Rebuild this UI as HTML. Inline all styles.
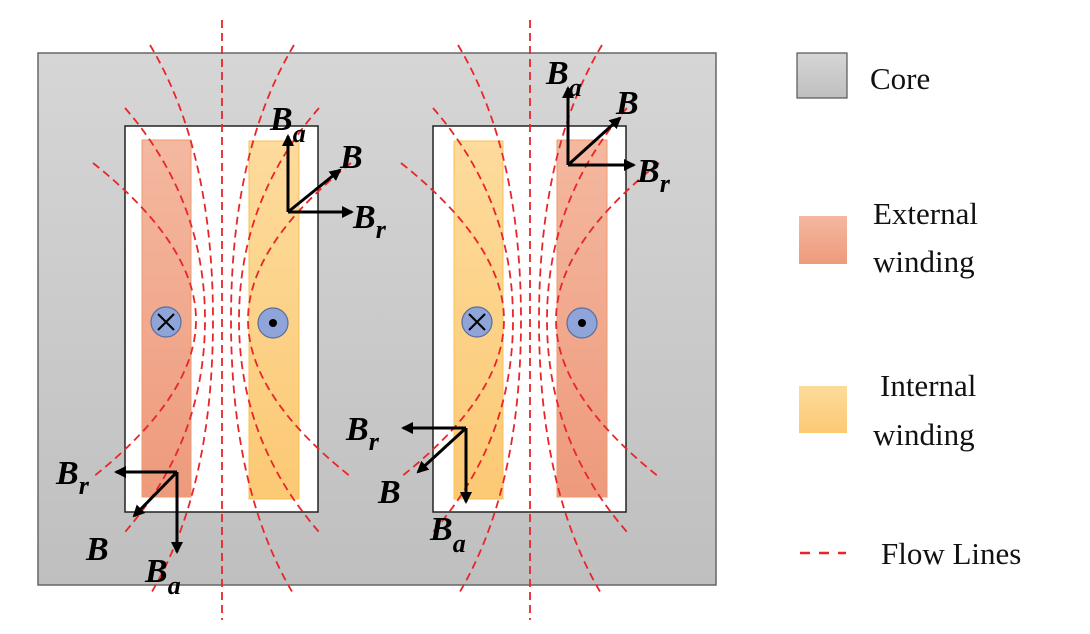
<!DOCTYPE html>
<html><head><style>body{margin:0;background:#fff}svg{display:block}</style></head><body>
<svg width="1090" height="634" viewBox="0 0 1090 634" xmlns="http://www.w3.org/2000/svg">
<defs>
<linearGradient id="cg" x1="0" y1="0" x2="0" y2="1"><stop offset="0" stop-color="#d6d6d6"/><stop offset="1" stop-color="#bfbfbf"/></linearGradient>
<linearGradient id="eg" x1="0" y1="0" x2="0" y2="1"><stop offset="0" stop-color="#f4b8a0"/><stop offset="1" stop-color="#ee9a7c"/></linearGradient>
<linearGradient id="ig" x1="0" y1="0" x2="0" y2="1"><stop offset="0" stop-color="#fddb9c"/><stop offset="1" stop-color="#fcc974"/></linearGradient>
<marker id="ah" markerWidth="12" markerHeight="12" refX="10" refY="6" orient="auto" markerUnits="userSpaceOnUse"><path d="M0,0 L12,6 L0,12 z" fill="#000"/></marker>
</defs>
<rect x="38" y="53" width="678" height="532" fill="url(#cg)" stroke="#666" stroke-width="1.5"/>
<rect x="125" y="126" width="193" height="386" fill="#fff" stroke="#222" stroke-width="1.5"/>
<rect x="433" y="126" width="193" height="386" fill="#fff" stroke="#222" stroke-width="1.5"/>
<rect x="142" y="140" width="49" height="357" fill="url(#eg)" stroke="#ee9a70" stroke-width="1"/>
<rect x="249" y="141" width="50" height="358" fill="url(#ig)" stroke="#f8c050" stroke-width="1"/>
<rect x="454" y="141" width="49" height="358" fill="url(#ig)" stroke="#f8c050" stroke-width="1"/>
<rect x="557" y="140" width="50" height="357" fill="url(#eg)" stroke="#ee9a70" stroke-width="1"/>
<g fill="none" stroke="#e8262a" stroke-width="1.8" stroke-dasharray="8 5" id="fl">
<line x1="222" y1="20" x2="222" y2="620"/>
<path d="M150,45 Q213,150 213,320 Q213,490 150,595"/><path d="M294,45 Q231,150 231,320 Q231,490 294,595"/>
<path d="M125,108 Q205,200 205,320 Q205,440 125,532"/><path d="M319,108 Q239,200 239,320 Q239,440 319,532"/>
<path d="M93,163 Q196,245 196,320 Q196,395 93,477"/><path d="M351,163 Q248,245 248,320 Q248,395 351,477"/>
</g>
<use href="#fl" transform="translate(308,0)"/>
<g stroke="#000" stroke-width="3" marker-end="url(#ah)" fill="none">
<line x1="288" y1="212" x2="288" y2="136"/><line x1="288" y1="212" x2="352" y2="212"/><line x1="288" y1="212" x2="340" y2="170"/>
<line x1="177" y1="472" x2="116" y2="472"/><line x1="177" y1="472" x2="177" y2="552"/><line x1="177" y1="472" x2="134" y2="516"/>
<line x1="568" y1="165" x2="568" y2="88"/><line x1="568" y1="165" x2="634" y2="165"/><line x1="568" y1="165" x2="620" y2="118"/>
<line x1="466" y1="428" x2="403" y2="428"/><line x1="466" y1="428" x2="466" y2="502"/><line x1="466" y1="428" x2="418" y2="472"/>
</g>
<g font-family="Liberation Serif, serif" font-weight="bold" font-style="italic" font-size="34" fill="#000">
<text x="270" y="130">B<tspan font-size="26" dy="12">a</tspan></text>
<text x="340" y="168">B</text>
<text x="353" y="228">B<tspan font-size="26" dy="10">r</tspan></text>
<text x="56" y="484">B<tspan font-size="26" dy="10">r</tspan></text>
<text x="86" y="560">B</text>
<text x="145" y="582">B<tspan font-size="26" dy="12">a</tspan></text>
<text x="546" y="84">B<tspan font-size="26" dy="12">a</tspan></text>
<text x="616" y="114">B</text>
<text x="637" y="182">B<tspan font-size="26" dy="10">r</tspan></text>
<text x="346" y="440">B<tspan font-size="26" dy="10">r</tspan></text>
<text x="378" y="503">B</text>
<text x="430" y="540">B<tspan font-size="26" dy="12">a</tspan></text>
</g>
<g stroke="#5a6d9e" stroke-width="1.2" fill="#8fa4d8">
<circle cx="166" cy="322" r="15"/><circle cx="273" cy="323" r="15"/>
<circle cx="477" cy="322" r="15"/><circle cx="582" cy="323" r="15"/>
</g>
<g stroke="#000" stroke-width="2"><line x1="158" y1="314" x2="174" y2="330"/><line x1="174" y1="314" x2="158" y2="330"/>
<line x1="469" y1="314" x2="485" y2="330"/><line x1="485" y1="314" x2="469" y2="330"/></g>
<circle cx="273" cy="323" r="4" fill="#000"/><circle cx="582" cy="323" r="4" fill="#000"/>
<rect x="797" y="53" width="50" height="45" fill="url(#cg)" stroke="#555" stroke-width="1.2"/>
<rect x="799" y="216" width="48" height="48" fill="url(#eg)"/>
<rect x="799" y="386" width="48" height="47" fill="url(#ig)"/>
<line x1="800" y1="553" x2="846" y2="553" stroke="#e8262a" stroke-width="2.5" stroke-dasharray="10 9"/>
<g font-family="Liberation Serif, serif" font-size="31" fill="#111">
<text x="870" y="89">Core</text>
<text x="873" y="224">External</text><text x="873" y="272">winding</text>
<text x="880" y="396">Internal</text><text x="873" y="445">winding</text>
<text x="881" y="564">Flow Lines</text>
</g>
</svg>
</body></html>
